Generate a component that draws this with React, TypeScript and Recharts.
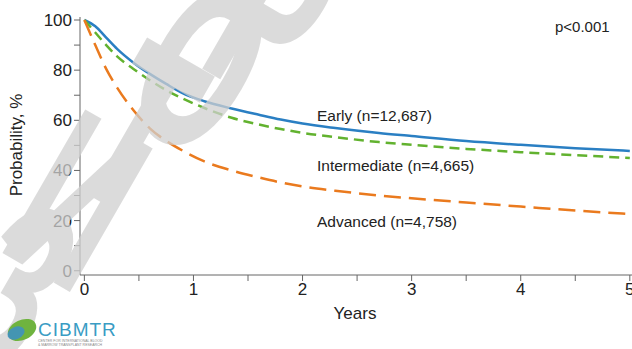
import { LineChart, Line, XAxis, YAxis } from "recharts"

// years since transplant
const years = [0, 0.1, 0.2, 0.3, 0.45, 0.6, 0.75, 0.9, 1.1, 1.35, 1.6, 1.8, 2, 2.3, 2.7, 3, 3.5, 4, 4.5, 5]
const early = [100, 97.5, 93, 88.5, 83, 78.5, 74.5, 70.8, 67.6, 64.7, 62.2, 60.3, 58.7, 56.9, 54.9, 53.7, 51.7, 50.2, 48.9, 47.8]
const intermediate = [100, 95, 90, 85.5, 80.5, 76, 72, 68.7, 64.9, 61, 58.3, 56.5, 55, 53.3, 51.3, 50.2, 48.6, 47.3, 46.1, 45]
const advanced = [100, 90, 80.5, 73, 64, 56.8, 51.8, 47.9, 43.6, 40, 37.2, 35.2, 33.6, 31.9, 30, 28.9, 27.2, 25.6, 24, 22.6]

const xTicks = [0, 0.5, 1, 1.5, 2, 2.5, 3, 3.5, 4, 4.5, 5]
const yTicks = [0, 10, 20, 30, 40, 50, 60, 70, 80, 90, 100]

const seriesLabels = ["Early (n=12,687)", "Intermediate (n=4,665)", "Advanced (n=4,758)"]

// watermark letters and their centres
const watermark = ["З", "И", "Т", "О", "Р"]
const wmX = [16, 78, 140, 202, 275]
const wmY = [285, 200, 128, 66, 14]

const data = years.map((t, i) => ({
  t,
  early: early[i],
  intermediate: intermediate[i],
  advanced: advanced[i],
}))

const font = "'Liberation Sans', Arial, sans-serif"
const axisColor = "#666"

export default function App() {
  return (
    <div style={{ position: "absolute", left: 0, top: 0, width: 632, height: 349, overflow: "hidden", background: "#fff", fontFamily: font }}>
      <LineChart width={632} height={349} data={data} margin={{ top: 17, right: 0, bottom: 0, left: 0 }}>
        <XAxis
          xAxisId="top"
          orientation="top"
          dataKey="t"
          type="number"
          domain={[-0.04, 5.02]}
          tick={false}
          tickLine={false}
          height={0}
          stroke={axisColor}
        />
        <XAxis
          dataKey="t"
          type="number"
          domain={[-0.04, 5.02]}
          ticks={xTicks}
          tickFormatter={(v: number) => (Number.isInteger(v) ? String(v) : "")}
          interval={0}
          tickSize={6}
          stroke={axisColor}
          tick={{ fill: "#222", fontSize: 17, fontFamily: font }}
          height={74}
          allowDataOverflow
        />
        <YAxis
          type="number"
          domain={[-1.7, 101.2]}
          ticks={yTicks}
          tickFormatter={(v: number) => (v % 20 === 0 ? String(v) : "")}
          interval={0}
          tickSize={6}
          width={80}
          stroke={axisColor}
          tick={{ fill: "#222", fontSize: 17, fontFamily: font }}
          allowDataOverflow
        />
        <Line xAxisId={0} dataKey="early" type="monotone" stroke="#2a7fc3" strokeWidth={2.5} dot={false} isAnimationActive={false} />
        <Line xAxisId={0} dataKey="intermediate" type="monotone" stroke="#62b22f" strokeWidth={2.5} strokeDasharray="10 6" dot={false} isAnimationActive={false} />
        <Line xAxisId={0} dataKey="advanced" type="monotone" stroke="#ea7a1e" strokeWidth={2.5} strokeDasharray="17 8" dot={false} isAnimationActive={false} />
      </LineChart>

      <svg width={632} height={349} style={{ position: "absolute", left: 0, top: 0, pointerEvents: "none" }}>
        <g fontFamily={font} fill="#222">
          <text x={317} y={121} fontSize={15.5}>{seriesLabels[0]}</text>
          <text x={317} y={171} fontSize={15.5}>{seriesLabels[1]}</text>
          <text x={317} y={227} fontSize={15.5}>{seriesLabels[2]}</text>
          <text x={555} y={32} fontSize={15}>p&lt;0.001</text>
          <text x={355} y={319} fontSize={17} textAnchor="middle">Years</text>
          <text x={22} y={145} fontSize={17} textAnchor="middle" transform="rotate(-90 22 145)">Probability, %</text>
        </g>
        {/* watermark */}
        <g fontFamily={font} fontWeight="bold" fontSize={235} fill="#d0d0d0" stroke="#d0d0d0" strokeWidth={4} opacity={0.75}>
          {watermark.map((ch, i) => (
            <text
              key={i}
              textAnchor="middle"
              dominantBaseline="central"
              transform={`translate(${wmX[i]} ${wmY[i]}) rotate(30) scale(0.55 1)`}
            >
              {ch}
            </text>
          ))}
        </g>
        {/* logo */}
        <ellipse cx={22} cy={330} rx={15} ry={10} fill="#6fb33f" transform="rotate(-25 22 330)" />
        <ellipse cx={16} cy={333} rx={9} ry={6} fill="#3d8fc7" opacity={0.85} transform="rotate(-25 16 333)" />
        <text x={38} y={336} fontFamily={font} fontSize={19} fill="#3a9cc4" letterSpacing={1}>CIBMTR</text>
        <text x={38} y={342} fontFamily={font} fontSize={3.5} fill="#888">CENTER FOR INTERNATIONAL BLOOD</text>
        <text x={38} y={346} fontFamily={font} fontSize={3.5} fill="#888">&amp; MARROW TRANSPLANT RESEARCH</text>
      </svg>
    </div>
  )
}
